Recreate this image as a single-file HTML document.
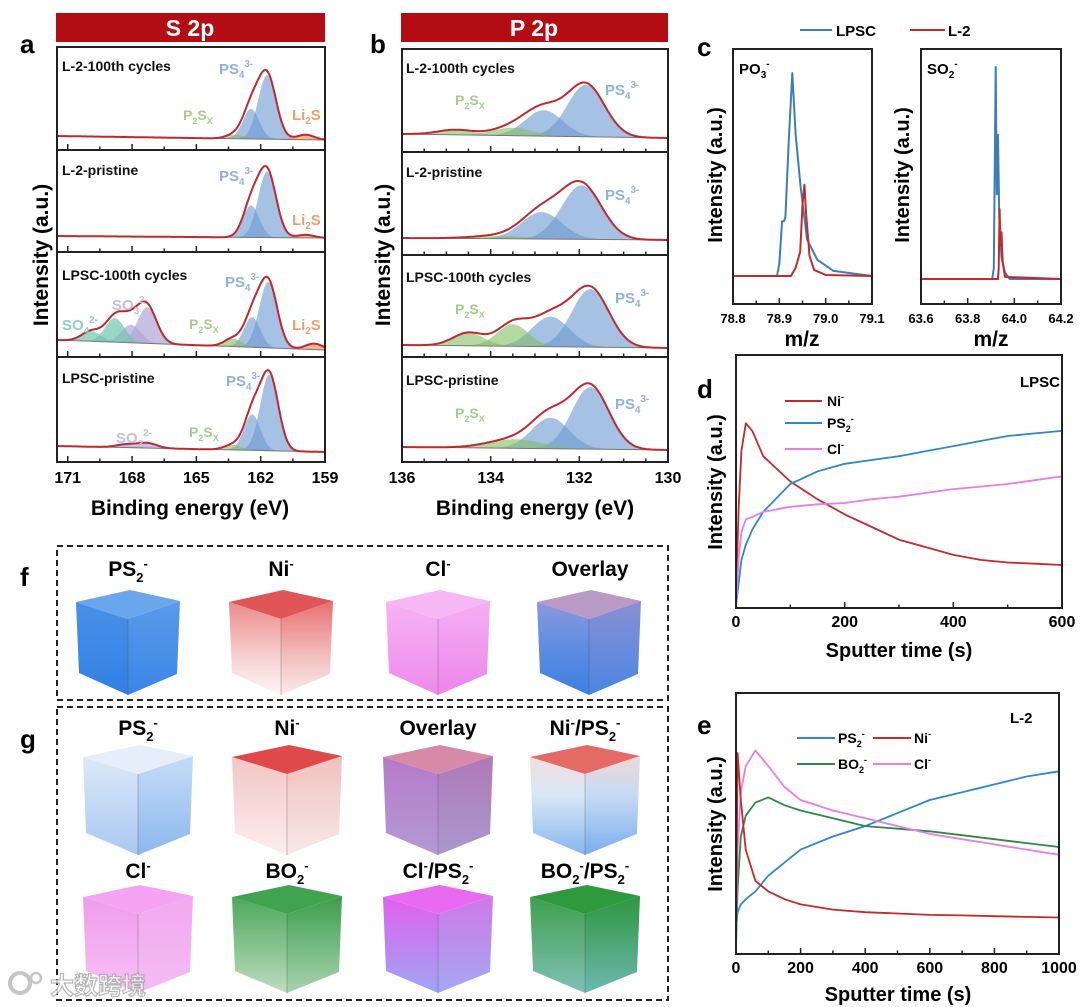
<!DOCTYPE html>
<html><head><meta charset="utf-8">
<style>
html,body{margin:0;padding:0;background:#fff;}
svg{display:block;font-family:"Liberation Sans","Noto Sans CJK SC",sans-serif;font-weight:bold;}
</style></head>
<body>
<svg id="fig" width="1080" height="1007" viewBox="0 0 1080 1007" xmlns="http://www.w3.org/2000/svg">
<defs id="defs"></defs>
<rect x="56" y="13" width="269" height="29" fill="#b30c12"/>
<text x="190" y="36" font-size="23" fill="#fff" text-anchor="middle">S 2p</text>
<rect x="401" y="13" width="267" height="29" fill="#b30c12"/>
<text x="534" y="36" font-size="23" fill="#fff" text-anchor="middle">P 2p</text>
<text x="20" y="53" font-size="26">a</text>
<text x="370" y="53" font-size="26">b</text>
<text x="697" y="56" font-size="26">c</text>
<text x="697" y="398" font-size="26">d</text>
<text x="697" y="734" font-size="26">e</text>
<text x="20" y="586" font-size="26">f</text>
<text x="20" y="748" font-size="26">g</text>
<text transform="translate(48,255) rotate(-90)" font-size="21" text-anchor="middle">Intensity (a.u.)</text>
<text transform="translate(390,255) rotate(-90)" font-size="21" text-anchor="middle">Intensity (a.u.)</text>
<text x="190" y="515" font-size="21" text-anchor="middle">Binding energy (eV)</text>
<text x="535" y="515" font-size="21" text-anchor="middle">Binding energy (eV)</text>
<text transform="translate(722,175) rotate(-90)" font-size="20" text-anchor="middle">Intensity (a.u.)</text>
<text transform="translate(909,175) rotate(-90)" font-size="20" text-anchor="middle">Intensity (a.u.)</text>
<text x="802" y="346" font-size="21" text-anchor="middle">m/z</text>
<text x="991" y="346" font-size="21" text-anchor="middle">m/z</text>
<text transform="translate(722,482) rotate(-90)" font-size="20" text-anchor="middle">Intensity (a.u.)</text>
<text x="899" y="657" font-size="20" text-anchor="middle">Sputter time (s)</text>
<text transform="translate(722,824) rotate(-90)" font-size="20" text-anchor="middle">Intensity (a.u.)</text>
<text x="898" y="1001" font-size="20" text-anchor="middle">Sputter time (s)</text>
<line x1="800" y1="30" x2="832" y2="30" stroke="#3b7fb8" stroke-width="2"/>
<text x="836" y="36" font-size="15">LPSC</text>
<line x1="910" y1="30" x2="945" y2="30" stroke="#c42a2a" stroke-width="2"/>
<text x="948" y="36" font-size="15">L-2</text>
<text x="739" y="74" font-size="15">PO<tspan font-size="10" dy="4">3</tspan><tspan font-size="10" dy="-11">-</tspan></text>
<text x="927" y="74" font-size="15">SO<tspan font-size="10" dy="4">2</tspan><tspan font-size="10" dy="-11">-</tspan></text>
<text x="1020" y="387" font-size="15">LPSC</text>
<line x1="785" y1="401" x2="822" y2="401" stroke="#c42a2a" stroke-width="2"/>
<text x="827" y="406" font-size="14">Ni<tspan font-size="9" dy="-6">-</tspan></text>
<line x1="785" y1="423" x2="822" y2="423" stroke="#2f86cc" stroke-width="2"/>
<text x="827" y="428" font-size="14">PS<tspan font-size="9" dy="4">2</tspan><tspan font-size="9" dy="-10">-</tspan></text>
<line x1="785" y1="449" x2="822" y2="449" stroke="#e57ee6" stroke-width="2"/>
<text x="827" y="454" font-size="14">Cl<tspan font-size="9" dy="-6">-</tspan></text>
<text x="1010" y="723" font-size="15">L-2</text>
<line x1="797" y1="738" x2="835" y2="738" stroke="#2f86cc" stroke-width="2"/>
<text x="838" y="743" font-size="14">PS<tspan font-size="9" dy="4">2</tspan><tspan font-size="9" dy="-10">-</tspan></text>
<line x1="873" y1="738" x2="911" y2="738" stroke="#c42a2a" stroke-width="2"/>
<text x="914" y="743" font-size="14">Ni<tspan font-size="9" dy="-6">-</tspan></text>
<line x1="797" y1="764" x2="835" y2="764" stroke="#2c8a45" stroke-width="2"/>
<text x="838" y="769" font-size="14">BO<tspan font-size="9" dy="4">2</tspan><tspan font-size="9" dy="-10">-</tspan></text>
<line x1="873" y1="764" x2="911" y2="764" stroke="#e57ee6" stroke-width="2"/>
<text x="914" y="769" font-size="14">Cl<tspan font-size="9" dy="-6">-</tspan></text>
<rect x="57" y="546" width="611" height="154" fill="none" stroke="#222" stroke-width="2" stroke-dasharray="6,4"/>
<rect x="57" y="707" width="611" height="293" fill="none" stroke="#222" stroke-width="2" stroke-dasharray="6,4"/>
<g id="layer"></g>
<g opacity="0.85">
<circle cx="20" cy="983" r="10" fill="none" stroke="#bbb" stroke-width="4"/>
<circle cx="36" cy="978" r="5" fill="none" stroke="#bbb" stroke-width="2.5"/>
<text x="50" y="994" font-size="24" fill="#fff" stroke="#aaa" stroke-width="1.2" font-family="'Noto Sans CJK SC',sans-serif">大数跨境</text>
</g>
</svg>
<script>
const a1Centers=[161.7,162.45,163.2,159.9];
const a1Heights=[64,30,4,5];
const a1Kinds=['ps4','ps4','p2s','li2s'];
const a2Centers=[161.7,162.45,159.9];
const a2Heights=[66,32,3];
const a2Kinds=['ps4','ps4','li2s'];
const a3Centers=[161.65,162.4,163.3,159.5,167.3,168.05,168.8,169.9];
const a3Heights=[66,30,8,6,36,18,24,10];
const a3Kinds=['ps4','ps4','p2s','li2s','so3','so3','so4','so4'];
const a4Centers=[161.6,162.4,163.3,167.3,168.3];
const a4Heights=[76,36,5,5,3];
const a4Kinds=['ps4','ps4','p2s','so3','so3'];
const b1Centers=[131.85,132.8,133.5,134.8];
const b1Heights=[52,26,8,5];
const b1Kinds=['ps4','ps4','p2s','p2s'];
const b2Centers=[131.95,132.85,133.8];
const b2Heights=[54,27,3];
const b2Kinds=['ps4','ps4','p2s'];
const b3Centers=[131.75,132.65,133.5,134.5];
const b3Heights=[58,30,22,13];
const b3Kinds=['ps4','ps4','p2s','p2s'];
const b4Centers=[131.75,132.65,133.45];
const b4Heights=[62,31,9];
const b4Kinds=['ps4','ps4','p2s'];
const poMz=[78.8,78.895,78.9,78.906,78.91,78.913,78.92,78.928,78.935,78.946,78.96,78.982,79.017,79.1];
const poLPSC=[0,0,6,27,27,29,65,100,70,44,18,8,2.5,0];
const poMzL2=[78.8,78.925,78.935,78.945,78.95,78.954,78.958,78.965,78.975,79.0,79.1];
const poL2=[0,0,4,12,35,45,30,10,3,0.5,0];
const soMz=[63.6,63.905,63.912,63.92,63.925,63.93,63.935,63.945,63.96,63.98,64.2];
const soLPSC=[0,0,5,100,40,68,30,10,3,0,0];
const soMzL2=[63.6,63.93,63.933,63.937,63.941,63.945,63.95,63.96,64.2];
const soL2=[0,0,5,33,16,22,8,1,0];
const dTime=[0,5,10,18,30,50,100,150,200,250,300,350,400,450,500,550,600];
const dNi=[5,40,62,73,70,60,50,43,37,32,27,24,21,19,18,17.5,17];
const dPS2=[1,10,19,25,31,38,49,54,57,58.5,60,62,64,66,68,69,70];
const dCl=[0,20,30,35,36,38,40,41,41.5,43,44,45.5,47,48,49,50.5,52];
const eTime=[0,5,15,30,60,100,150,200,300,400,500,600,700,800,900,1000];
const eNi=[5,77,59,40,28,24,21,19,17,16,15.5,15,14.8,14.5,14.2,14];
const eCl=[5,40,62,72,78,72,64,59,55,52,49,46,44,42,40,38];
const eBO2=[3,25,45,53,58,60,57,55,52,49,48,47,45.5,44,42.5,41];
const ePS2=[10,16,19,21,24,30,35,40,45,49,54,59,62,65,68,70];
const aTicks=[171,168,165,162,159];
const bTicks=[136,134,132,130];
const cLeftTicks=[78.8,78.9,79.0,79.1];
const cRightTicks=[63.6,63.8,64.0,64.2];
const dTicks=[0,200,400,600];
const eTicks=[0,200,400,600,800,1000];

const NS='http://www.w3.org/2000/svg';
const layer=document.getElementById('layer');
const defs=document.getElementById('defs');
function mk(tag,attrs,parent){const e=document.createElementNS(NS,tag);for(const k in attrs)e.setAttribute(k,attrs[k]);(parent||layer).appendChild(e);return e;}
function lin(d0,d1,r0,r1){return v=>r0+(v-d0)*(r1-r0)/(d1-d0);}
function gauss(x,c,h,s){return h*Math.exp(-0.5*((x-c)/s)*((x-c)/s));}
const fillCol={ps4:'rgba(110,155,210,0.62)',p2s:'rgba(130,190,100,0.6)',li2s:'rgba(240,140,80,0.65)',so3:'rgba(175,165,215,0.7)',so4:'rgba(110,200,175,0.7)'};

function xpsPanel(name,x0,x1,eLeft,eRight,sub,centers,heights,kinds,sigmaFor,baseL,baseR){
  const X=lin(eLeft,eRight,x0,x1);
  const base=e=>baseL+(e-eLeft)*(baseR-baseL)/(eRight-eLeft);
  const N=220;
  const step=(eRight-eLeft)/N;
  for(let k=0;k<centers.length;k++){
    let d='';
    const s=sigmaFor(kinds[k],k);
    for(let i=0;i<=N;i++){const e=eLeft+i*step;const y=base(e)-gauss(e,centers[k],heights[k],s);d+=(i?'L':'M')+X(e).toFixed(1)+','+y.toFixed(1);}
    d+='L'+x1+','+base(eRight)+'L'+x0+','+base(eLeft)+'Z';
    const p=mk('path',{d:d,fill:fillCol[kinds[k]],stroke:'none'});
    
    
  }
  const bl=mk('line',{x1:x0,y1:baseL,x2:x1,y2:baseR,stroke:'#777',"stroke-width":1});
  
  
  let d='';
  for(let i=0;i<=N;i++){const e=eLeft+i*step;let v=0;for(let k=0;k<centers.length;k++)v+=gauss(e,centers[k],heights[k],sigmaFor(kinds[k],k));d+=(i?'L':'M')+X(e).toFixed(1)+','+(base(e)-v).toFixed(1);}
  const env=mk('path',{d:d,fill:'none',stroke:'#c0282d',"stroke-width":2});
  
  
}
function label(txt,x,y,col,size,nm,sub,sup){
  const t=mk('text',{x:x,y:y,fill:col,"font-size":size});
  
  
  t.appendChild(document.createTextNode(txt));
  if(sub){const s=mk('tspan',{"font-size":size*0.65,dy:4},t);s.textContent=sub;}
  if(sup){const s=mk('tspan',{"font-size":size*0.65,dy:sub?-11:-7},t);s.textContent=sup;}
  return t;
}
function labelLi2S(x,y,nm){const t=label('Li',x,y,'#eea06c',15,nm,'2');const s=mk('tspan',{dy:-4},t);s.textContent='S';}
function labelP2S(x,y,nm){const t=label('P',x,y,'#a6cc8b',14,nm);const a=mk('tspan',{"font-size":9,dy:4},t);a.textContent='2';const b=mk('tspan',{dy:-4},t);b.textContent='S';const c=mk('tspan',{"font-size":9,dy:4},t);c.textContent='X';}

const aSig=(k,i)=>k==='ps4'?(i===0?0.42:0.38):(k==='so3'||k==='so4'?0.45:0.4);
xpsPanel('a1',57,325,171.5,159,0,a1Centers,a1Heights,a1Kinds,aSig,136,140);
xpsPanel('a2',57,325,171.5,159,1,a2Centers,a2Heights,a2Kinds,aSig,236,238);
xpsPanel('a3',57,325,171.5,159,2,a3Centers,a3Heights,a3Kinds,aSig,340,350);
xpsPanel('a4',57,325,171.5,159,3,a4Centers,a4Heights,a4Kinds,aSig,446,452);
const bSig=(k,i)=>k==='ps4'?0.42:(i===2&&k==='p2s'?0.45:0.4);
xpsPanel('b1',402,668,136,130,0,b1Centers,b1Heights,b1Kinds,bSig,134,138);
xpsPanel('b2',402,668,136,130,1,b2Centers,b2Heights,b2Kinds,(k,i)=>k==='ps4'?0.45:0.6,238,240);
xpsPanel('b3',402,668,136,130,2,b3Centers,b3Heights,b3Kinds,(k,i)=>k==='ps4'?0.42:0.35,345,348);
xpsPanel('b4',402,668,136,130,3,b4Centers,b4Heights,b4Kinds,(k,i)=>k==='ps4'?0.42:0.6,447,450);

function stackFrame(nm,x0,x1,ys,eL,eR,majors,minorStep){
  const X=lin(eL,eR,x0,x1);
  for(let i=0;i<ys.length-1;i++){
    const r=mk('rect',{x:x0,y:ys[i],width:x1-x0,height:ys[i+1]-ys[i],fill:'none',stroke:'#222',"stroke-width":2});
    
    
    const lo=Math.min(eL,eR),hi=Math.max(eL,eR);
    for(let e=Math.ceil(lo/minorStep)*minorStep;e<=hi+1e-6;e+=minorStep){
      const isMaj=majors.some(m=>Math.abs(m-e)<1e-6);
      const t=mk('line',{x1:X(e),x2:X(e),y1:ys[i+1],y2:ys[i+1]-(isMaj?6:3.5),stroke:'#222',"stroke-width":1.5});
      
      
    }
  }
  majors.forEach(m=>{const t=mk('text',{x:X(m),y:ys[ys.length-1]+21,"font-size":16,"text-anchor":"middle"});t.textContent=m;
    
    });
}
stackFrame('a',57,325,[47,150,252,357,462],171.5,159,aTicks,1.5);
stackFrame('b',402,668,[49,152,255,357,462],136,130,bTicks,0.5);

label('L-2-100th cycles',62,71,'#111',14,'a1-title');
label('L-2-pristine',62,175,'#111',14,'a2-title');
label('LPSC-100th cycles',62,280,'#111',14,'a3-title');
label('LPSC-pristine',62,383,'#111',14,'a4-title');
label('PS',219,74,'#8fb2da',15,'a1-ps4-label','4','3-');
label('PS',219,181,'#8fb2da',15,'a2-ps4-label','4','3-');
label('PS',225,287,'#8fb2da',15,'a3-ps4-label','4','3-');
label('PS',226,386,'#8fb2da',15,'a4-ps4-label','4','3-');
labelLi2S(292,120,'a1-li2s-label');
labelLi2S(292,225,'a2-li2s-label');
labelLi2S(292,330,'a3-li2s-label');
labelP2S(183,120,'a1-p2sx-label');
labelP2S(189,329,'a3-p2sx-label');
labelP2S(189,437,'a4-p2sx-label');
label('SO',112,310,'#c4bde0',15,'a3-so3-label','3','2-');
label('SO',62,330,'#8fd0c0',15,'a3-so4-label','4','2-');
label('SO',116,443,'#c4bde0',15,'a4-so3-label','3','2-');
label('L-2-100th cycles',406,73,'#111',14,'b1-title');
label('L-2-pristine',406,177,'#111',14,'b2-title');
label('LPSC-100th cycles',406,282,'#111',14,'b3-title');
label('LPSC-pristine',406,385,'#111',14,'b4-title');
label('PS',605,95,'#8fb2da',15,'b1-ps4-label','4','3-');
label('PS',605,200,'#8fb2da',15,'b2-ps4-label','4','3-');
label('PS',615,303,'#8fb2da',15,'b3-ps4-label','4','3-');
label('PS',615,409,'#8fb2da',15,'b4-ps4-label','4','3-');
labelP2S(455,105,'b1-p2sx-label');
labelP2S(455,314,'b3-p2sx-label');
labelP2S(455,418,'b4-p2sx-label');

function box(nm,x,y,w,h){const r=mk('rect',{x:x,y:y,width:w,height:h,fill:'none',stroke:'#222',"stroke-width":2});}
function xTicks(nm,X,y,majors,minors,labelFmt,fs){
  minors.forEach(v=>{const t=mk('line',{x1:X(v),x2:X(v),y1:y,y2:y-3.5,stroke:'#222',"stroke-width":1.5});});
  majors.forEach(v=>{const t=mk('line',{x1:X(v),x2:X(v),y1:y,y2:y-6,stroke:'#222',"stroke-width":1.5});
    const l=mk('text',{x:X(v),y:y+19,"font-size":fs,"text-anchor":"middle"});l.textContent=labelFmt(v);});
}
function line(nm,X,Y,xs,ys,col,w){let d='';xs.forEach((x,i)=>{d+=(i?'L':'M')+X(x).toFixed(1)+','+Y(ys[i]).toFixed(1);});const p=mk('path',{d:d,fill:'none',stroke:col,"stroke-width":w||2,"stroke-linejoin":"round"});}
const cLX=lin(78.8,79.1,733,872), cLY=v=>276-v*2.03;
const cRX=lin(63.6,64.2,921,1061), cRY=v=>279-v*2.12;
line('c-po3-lpsc-line',cLX,cLY,poMz,poLPSC,'#3b7fb8',2);
line('c-po3-l2-line',cLX,cLY,poMzL2,poL2,'#c42a2a',2);
line('c-so2-lpsc-line',cRX,cRY,soMz,soLPSC,'#3b7fb8',2);
line('c-so2-l2-line',cRX,cRY,soMzL2,soL2,'#c42a2a',2);
box('c-left-plot-frame',733,49,139,255);
box('c-right-plot-frame',921,49,140,255);
xTicks('c-left-x',cLX,304,cLeftTicks,[78.85,78.95,79.05],v=>v.toFixed(1),13);
xTicks('c-right-x',cRX,304,cRightTicks,[63.7,63.9,64.1],v=>v.toFixed(1),13);

const dX=lin(0,600,736,1062), dY=v=>608-v*2.53;
line('d-ni-line',dX,dY,dTime,dNi,'#c42a2a',1.8);
line('d-ps2-line',dX,dY,dTime,dPS2,'#2f86cc',1.8);
line('d-cl-line',dX,dY,dTime,dCl,'#e57ee6',1.8);
box('d-plot-frame',736,355,326,253);
xTicks('d-x',dX,608,dTicks,[100,300,500],v=>v,16);
const eX=lin(0,1000,736,1059), eY=v=>954-v*2.61;
line('e-ps2-line',eX,eY,eTime,ePS2,'#2f86cc',1.8);
line('e-bo2-line',eX,eY,eTime,eBO2,'#2c8a45',1.8);
line('e-cl-line',eX,eY,eTime,eCl,'#e57ee6',1.8);
line('e-ni-line',eX,eY,eTime,eNi,'#c42a2a',1.8);
box('e-plot-frame',736,693,323,261);
xTicks('e-x',eX,954,eTicks,[100,300,500,700,900],v=>v,16);

let gid=0;
function grad(stops,x1,y1,x2,y2){const id='g'+(gid++);const g=mk('linearGradient',{id:id,x1:x1,y1:y1,x2:x2,y2:y2},defs);stops.forEach(s=>mk('stop',{offset:s[0],"stop-color":s[1]},g));return 'url(#'+id+')';}
function cube(nm,cx,top,bottom,w,topCol,leftStops,rightStops){
  const hw=w/2;
  const g=mk('g',{});
  
  
  const L=[cx-hw,top+12],B=[cx+2,top],R=[cx+hw,top+11],F=[cx,top+29];
  const Lb=[cx-hw+3,bottom-22],Fb=[cx,bottom],Rb=[cx+hw-3,bottom-21];
  const P=a=>a.map(p=>p.join(',')).join(' ');
  mk('polygon',{points:P([L,F,Fb,Lb]),fill:grad(leftStops,0,0,0,1)},g);
  mk('polygon',{points:P([F,R,Rb,Fb]),fill:grad(rightStops,0,0,0,1)},g);
  mk('polygon',{points:P([L,B,R,F]),fill:topCol},g);
  mk('line',{x1:F[0],y1:F[1],x2:Fb[0],y2:Fb[1],stroke:'rgba(60,60,60,0.35)',"stroke-width":0.8},g);
  layer.appendChild(g);
}
function cubeLabel(nm,x,y,main,sub,sup,rest){
  const t=mk('text',{x:x,y:y,"font-size":21,"text-anchor":"middle"});
  
  
  t.appendChild(document.createTextNode(main));
  if(sub){const s=mk('tspan',{"font-size":13,dy:6},t);s.textContent=sub;}
  if(sup){const s=mk('tspan',{"font-size":13,dy:sub?-14:-8},t);s.textContent=sup;}
  if(rest){const s=mk('tspan',{dy:8},t);s.textContent=rest[0];if(rest[1]){const a=mk('tspan',{"font-size":13,dy:6},t);a.textContent=rest[1];}if(rest[2]){const b=mk('tspan',{"font-size":13,dy:-14},t);b.textContent=rest[2];}}
}
cube('f-ps2-cube',128,590,695,104,'#6aa6ec',[[0,'#4a90e6'],[0.5,'#3d89e6'],[1,'#2f80e2']],[[0,'#5a9aea'],[1,'#3a86e4']]);
cube('f-ni-cube',281,590,695,104,'#e05555',[[0,'#ec8a8a'],[0.6,'#f6d2d2'],[1,'#fdf3f3']],[[0,'#e87070'],[0.6,'#f2c0c0'],[1,'#fbeaea']]);
cube('f-cl-cube',438,590,695,104,'#f6b8f4',[[0,'#f7b2f4'],[1,'#ee8aec']],[[0,'#f5aef3'],[1,'#ec86ea']]);
cube('f-overlay-cube',589,590,695,104,'#b99ac4',[[0,'#8b98dc'],[0.5,'#5e8ce0'],[1,'#3a80e4']],[[0,'#8a8fd4'],[1,'#4a86e2']]);
cubeLabel('f-ps2-label',128,576,'PS','2','-');
cubeLabel('f-ni-label',281,576,'Ni',null,'-');
cubeLabel('f-cl-label',438,576,'Cl',null,'-');
cubeLabel('f-overlay-label',590,576,'Overlay');
cube('g-ps2-cube',138,745,855,110,'#e6eefa',[[0,'#dce8f8'],[1,'#a9c8f2']],[[0,'#c6dcf6'],[1,'#8cb8ee']]);
cube('g-ni-cube',287,745,855,110,'#e0494a',[[0,'#f2c6c4'],[1,'#fbeeed']],[[0,'#f0c0be'],[1,'#f9e8e8']]);
cube('g-overlay-cube',438,745,855,110,'#d68aa8',[[0,'#b47ac8'],[1,'#b59ad4']],[[0,'#b078b8'],[1,'#aa98cc']]);
cube('g-ni-ps2-cube',585,745,855,110,'#e46a64',[[0,'#f2dede'],[0.4,'#d8e6f6'],[1,'#86b6ee']],[[0,'#eed8d8'],[0.4,'#c6daf4'],[1,'#7aaeec']]);
cubeLabel('g-ps2-label',138,735,'PS','2','-');
cubeLabel('g-ni-label',287,735,'Ni',null,'-');
cubeLabel('g-overlay-label',438,735,'Overlay');
cubeLabel('g-ni-ps2-label',585,735,'Ni',null,'-',['/PS','2','-']);
cube('g-cl-cube',138,885,993,110,'#f4a4f2',[[0,'#f09cee'],[1,'#f6c0f4']],[[0,'#f2a8f0'],[1,'#f3bcf2']]);
cube('g-bo2-cube',287,885,993,110,'#3fa350',[[0,'#4fa85c'],[1,'#bcdcc0']],[[0,'#3c9e4c'],[1,'#a8d2b0']]);
cube('g-cl-ps2-cube',438,885,993,110,'#e86af0',[[0,'#e060ee'],[1,'#9fa6f2']],[[0,'#cf78e8'],[1,'#a4a8f0']]);
cube('g-bo2-ps2-cube',585,885,993,110,'#2e9a3e',[[0,'#40a04c'],[1,'#80c0b8']],[[0,'#2f963e'],[1,'#6cb8b0']]);
cubeLabel('g-cl-label',138,878,'Cl',null,'-');
cubeLabel('g-bo2-label',287,878,'BO','2','-');
cubeLabel('g-cl-ps2-label',438,878,'Cl',null,'-',['/PS','2','-']);
cubeLabel('g-bo2-ps2-label',585,878,'BO','2','-',['/PS','2','-']);
</script>
</body></html>
